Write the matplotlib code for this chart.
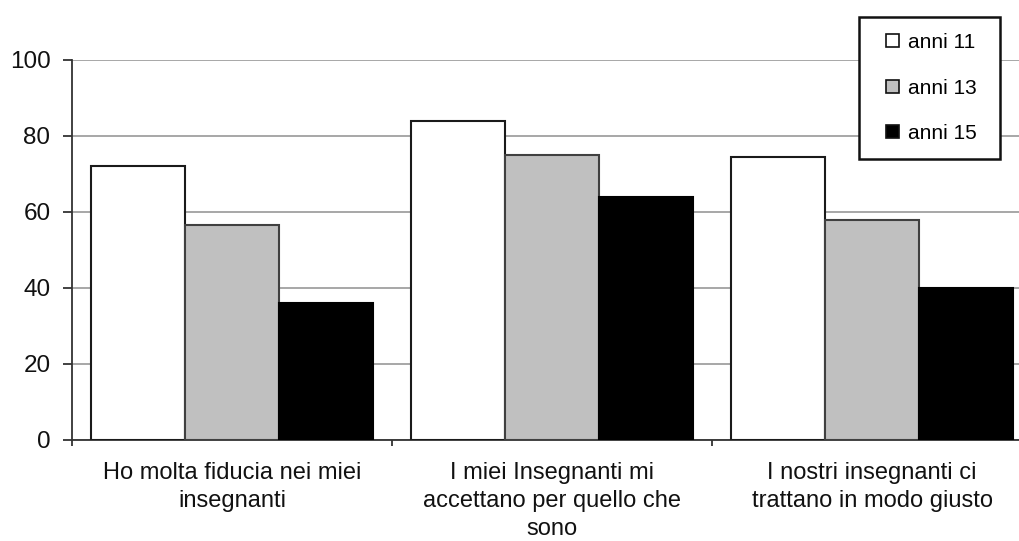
import matplotlib
matplotlib.use("Agg")
import matplotlib.pyplot as plt
import numpy as np
from matplotlib.patches import Patch, Rectangle

categories = ["Ho molta fiducia nei miei\ninsegnanti",
              "I miei Insegnanti mi\naccettano per quello che\nsono",
              "I nostri insegnanti ci\ntrattano in modo giusto"]
series_names = ["anni 11", "anni 13", "anni 15"]
anni_11 = [72, 84, 74.5]
anni_13 = [56.5, 75, 58]
anni_15 = [36, 64, 40]
y_ticks = [0, 20, 40, 60, 80, 100]

plt.rcParams['font.family'] = ['Liberation Sans', 'DejaVu Sans']

W, H = 1019, 541
fig = plt.figure(figsize=(W / 100, H / 100), dpi=100)
ax = fig.add_axes([72 / W, (H - 440) / H, 960 / W, 380 / H])

x = np.arange(len(categories))
bw = 0.294
fills = ["#ffffff", "#c0c0c0", "#000000"]
edges = ["#1a1a1a", "#404040", "#000000"]
for i, (vals, fc, ec) in enumerate(zip([anni_11, anni_13, anni_15], fills, edges)):
    ax.bar(x + (i - 1) * bw, vals, width=bw, color=fc, edgecolor=ec,
           linewidth=1.5, zorder=3)

ax.set_xlim(-0.5, len(categories) - 0.5)
ax.set_ylim(0, 100)
ax.set_yticks(y_ticks)
ax.yaxis.grid(True, color="#a0a0a0", linewidth=1.3, zorder=0)
ax.set_axisbelow(True)
for s in ["top", "right"]:
    ax.spines[s].set_visible(False)
for s in ["left", "bottom"]:
    ax.spines[s].set_color("#333333")
    ax.spines[s].set_linewidth(1.3)

ax.set_xticks(x)
ax.set_xticklabels(categories, fontsize=17, color="#111111", linespacing=1.36)
ax.tick_params(axis="x", which="major", length=0, pad=16)
ax.set_xticks(np.arange(-0.5, len(categories), 1.0), minor=True)
ax.tick_params(axis="x", which="minor", length=4.5, width=1.3, color="#333333",
               direction="out")
ax.tick_params(axis="y", length=6.5, width=1.3, color="#333333", pad=9,
               labelsize=17.5, labelcolor="#111111")

# legend
lx0, ly0, lx1, ly1 = 859, 17, 1000, 159
rect = Rectangle((lx0 / W, 1 - ly1 / H), (lx1 - lx0) / W, (ly1 - ly0) / H,
                 transform=fig.transFigure, facecolor="white",
                 edgecolor="#111111", linewidth=1.8, zorder=5)
fig.patches.append(rect)
handles = [Patch(facecolor=fc, edgecolor="#111111", linewidth=1.2) for fc in fills]
leg = fig.legend(handles, series_names, loc="center",
                 bbox_to_anchor=((lx0 + lx1) / 2 / W + 2 / W, 1 - (ly0 + ly1) / 2 / H),
                 frameon=False, fontsize=15, handlelength=0.6, handleheight=0.6,
                 handletextpad=0.45, labelspacing=1.28, borderpad=0)
leg.set_zorder(6)

fig.savefig("out.png", dpi=100)
